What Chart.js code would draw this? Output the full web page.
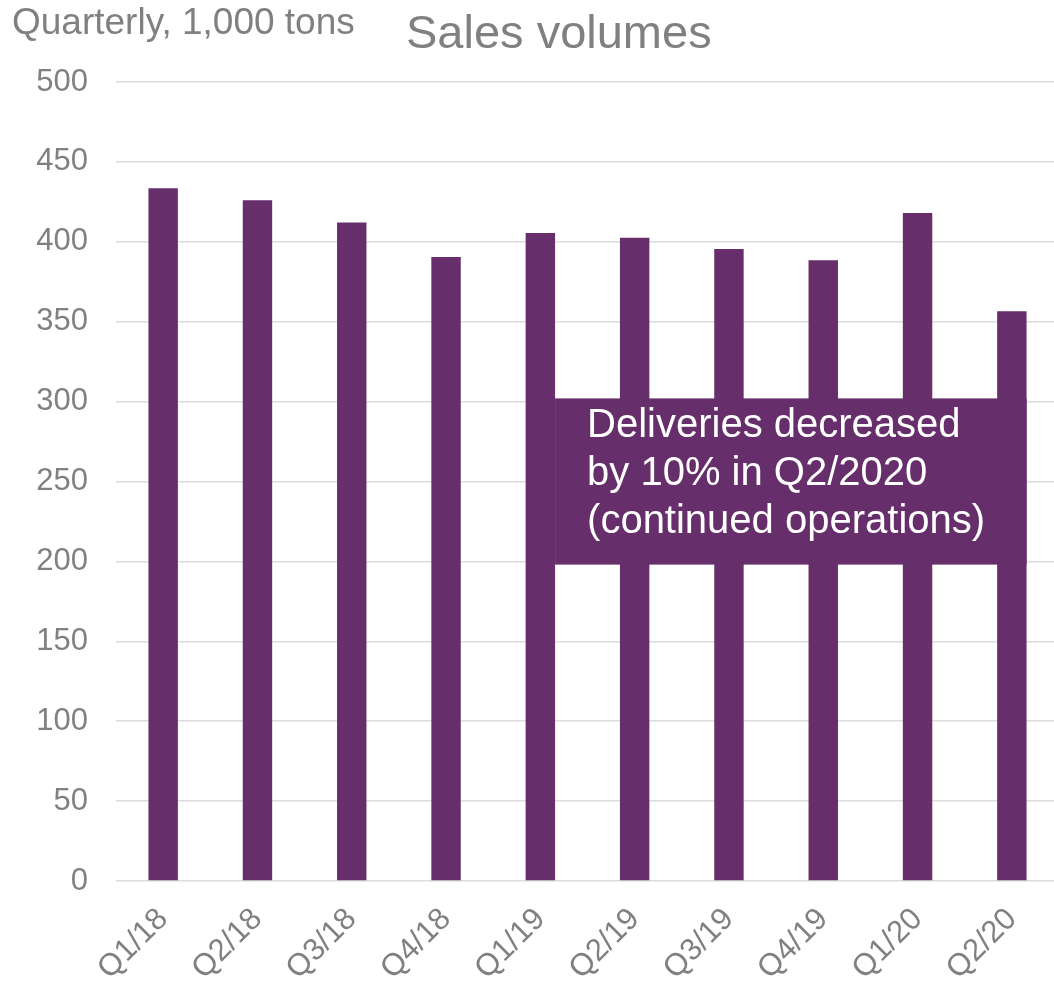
<!DOCTYPE html>
<html>
<head>
<meta charset="utf-8">
<script src="https://cdn.jsdelivr.net/npm/chart.js@4/dist/chart.umd.min.js"></script>
<style>
  html, body { margin: 0; padding: 0; background: #fff; overflow: hidden; }
  #wrap { width: 1059px; height: 981px; position: relative; }
</style>
</head>
<body>
<div id="wrap"><canvas id="chart"></canvas></div>
<script>
  // data (1,000 tons per quarter)
  const quarters = ['Q1/18','Q2/18','Q3/18','Q4/18','Q1/19','Q2/19','Q3/19','Q4/19','Q1/20','Q2/20'];
  const volumes = [433.5, 426, 412, 390.5, 405.5, 402.5, 395.5, 388.5, 418, 356.5];
  const yMin = 0, yMax = 500, yStep = 50;

  const titleText = 'Sales volumes';
  const unitText = 'Quarterly, 1,000 tons';
  const noteLines = ['Deliveries decreased', 'by 10% in Q2/2020', '(continued operations)'];
  // note box spans from the Q1/19 bar to the Q2/20 bar, between these values
  const noteFrom = 4, noteTo = 9, noteTop = 302, noteBottom = 198;

  const PURPLE = '#662e6b';
  const GREY = '#808080';
  const FONT = '"Liberation Sans", Arial, sans-serif';
  const BAR_PCT = 0.312;

  // headings drawn straight on the canvas
  const headings = {
    id: 'headings',
    afterDraw(chart){
      const ctx = chart.ctx;
      ctx.save();
      ctx.fillStyle = GREY;
      ctx.textBaseline = 'alphabetic';
      ctx.textAlign = 'left';
      ctx.font = '37px ' + FONT;
      ctx.fillText(unitText, 12, 34);
      ctx.font = '47px ' + FONT;
      ctx.fillText(titleText, 406, 48);
      ctx.restore();
    }
  };

  // purple call-out box
  const noteBox = {
    id: 'noteBox',
    afterDatasetsDraw(chart){
      const x = chart.scales.x, y = chart.scales.y;
      const half = (x.getPixelForValue(1) - x.getPixelForValue(0)) * BAR_PCT / 2;
      const left = x.getPixelForValue(noteFrom) + half;
      const right = x.getPixelForValue(noteTo) + half;
      const top = y.getPixelForValue(noteTop);
      const bottom = y.getPixelForValue(noteBottom);
      const ctx = chart.ctx;
      ctx.save();
      ctx.fillStyle = PURPLE;
      ctx.fillRect(left, top, right - left, bottom - top);
      ctx.fillStyle = '#fff';
      ctx.font = '40px ' + FONT;
      ctx.textAlign = 'left';
      ctx.textBaseline = 'alphabetic';
      noteLines.forEach((t, i) => ctx.fillText(t, left + 32, top + 39 + i * 48));
      ctx.restore();
    }
  };

  new Chart(document.getElementById('chart'), {
    type: 'bar',
    data: {
      labels: quarters,
      datasets: [{
        data: volumes,
        backgroundColor: PURPLE,
        borderWidth: 0,
        barPercentage: BAR_PCT,
        categoryPercentage: 1
      }]
    },
    options: {
      responsive: true,
      maintainAspectRatio: false,
      animation: false,
      layout: { padding: { top: 82, left: 0, right: 0, bottom: 0 } },
      plugins: { legend: { display: false }, tooltip: { enabled: false }, title: { display: false } },
      scales: {
        x: {
          grid: { display: false },
          border: { display: false },
          ticks: {
            color: GREY,
            font: { family: FONT, size: 31 },
            maxRotation: 45, minRotation: 45,
            padding: 12
          },
          afterFit(s){ s.height = 100; }
        },
        y: {
          min: yMin, max: yMax,
          grid: { color: '#dcdcdc', lineWidth: 1.5, drawTicks: false },
          border: { display: false },
          ticks: {
            stepSize: yStep,
            color: GREY,
            font: { family: FONT, size: 31 },
            padding: 28
          },
          afterFit(s){ s.width = 116; }
        }
      }
    },
    plugins: [headings, noteBox]
  });
</script>
</body>
</html>
